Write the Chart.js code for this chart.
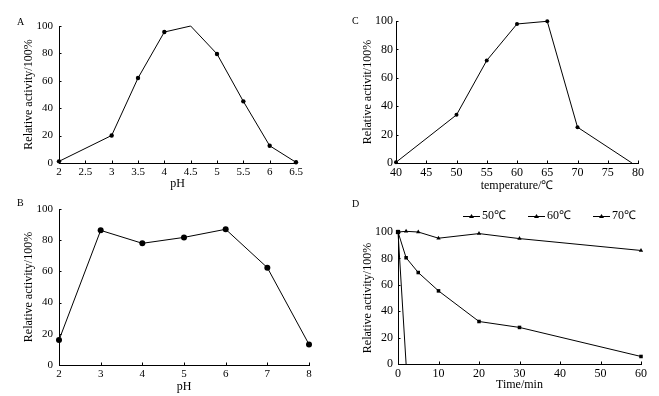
<!DOCTYPE html>
<html>
<head>
<meta charset="utf-8">
<script src="https://cdn.jsdelivr.net/npm/chart.js@4/dist/chart.umd.min.js"></script>
<style>
  html,body{margin:0;padding:0;background:#fff;}
  #wrap{position:relative;width:659px;height:396px;overflow:hidden;font-family:"Liberation Serif",serif;}
  canvas{position:absolute;}
  .lab{position:absolute;font-family:"Liberation Serif",serif;font-size:10px;color:#000;line-height:10px;}
</style>
</head>
<body>
<div id="wrap">
  <canvas id="cA" width="330" height="195" style="left:0;top:0;width:330px;height:195px"></canvas>
  <canvas id="cC" width="329" height="195" style="left:330px;top:0;width:329px;height:195px"></canvas>
  <canvas id="cB" width="330" height="201" style="left:0;top:195px;width:330px;height:201px"></canvas>
  <canvas id="cD" width="329" height="201" style="left:330px;top:195px;width:329px;height:201px"></canvas>
  <div class="lab" style="left:17px;top:17px">A</div>
  <div class="lab" style="left:352px;top:16px">C</div>
  <div class="lab" style="left:17px;top:198px">B</div>
  <div class="lab" style="left:352px;top:199px">D</div>
</div>
<script>
// ---- data ----
const phA = [2, 3, 3.5, 4, 4.5, 5, 5.5, 6, 6.5];
const activityA = [1.2, 20.1, 62, 95.6, 100, 79.6, 45, 12.6, 0.5];

const phB = [2, 3, 4, 5, 6, 7, 8];
const activityB = [16, 86.3, 78, 81.8, 87, 62.4, 13.2];

const tempC = [40, 50, 55, 60, 65, 70, 79];
const activityC = [0.5, 33.9, 72.2, 97.9, 99.8, 25.2, 0];

const timeD50 = [0, 2, 5, 10, 20, 30, 60];
const activityD50 = [100, 100.5, 100, 95.3, 98.8, 95, 86];
const timeD60 = [0, 2, 5, 10, 20, 30, 60];
const activityD60 = [100, 80.5, 69.3, 55.4, 32.2, 27.7, 5.7];
const timeD70 = [0, 2];
const activityD70 = [100, 0];
const seriesLabelsD = ['50℃', '60℃', '70℃'];

// ---- helpers ----
const FONT = '"Liberation Serif", serif';
const pts = (xs, ys) => xs.map((x, i) => ({x: x, y: ys[i]}));
const fmt = v => String(Math.round(v * 100) / 100);

const inwardTicks = {
  id: 'inwardTicks',
  afterDraw(chart) {
    const ctx = chart.ctx, xs = chart.scales.x, ys = chart.scales.y;
    ctx.save();
    ctx.strokeStyle = '#000';
    ctx.lineWidth = 1;
    xs.ticks.forEach((t, i) => {
      const px = Math.round(xs.getPixelForTick(i)) + 0.5;
      ctx.beginPath(); ctx.moveTo(px, xs.top); ctx.lineTo(px, xs.top - 2.5); ctx.stroke();
    });
    ys.ticks.forEach((t, i) => {
      const py = Math.round(ys.getPixelForTick(i)) + 0.5;
      ctx.beginPath(); ctx.moveTo(ys.right, py); ctx.lineTo(ys.right + 2.5, py); ctx.stroke();
    });
    ctx.restore();
  }
};

function axisX(min, max, step, title, opt) {
  return {
    type: 'linear', min: min, max: max,
    afterFit: s => { s.height = opt.h; },
    grid: {display: false, drawTicks: false},
    border: {display: true, color: '#000', width: 1},
    ticks: {stepSize: step, color: '#000', padding: opt.tp, font: {family: FONT, size: opt.fs}, maxRotation: 0, autoSkip: false, callback: fmt},
    title: {display: true, text: title, color: '#000', font: {family: FONT, size: 12}, padding: {top: opt.titleP, bottom: opt.titleP}}
  };
}
function axisY(title, opt) {
  return {
    type: 'linear', min: 0, max: 100,
    afterFit: s => { s.width = opt.w; },
    grid: {display: false, drawTicks: false},
    border: {display: true, color: '#000', width: 1},
    ticks: {stepSize: 20, color: '#000', padding: opt.tp, font: {family: FONT, size: opt.fs}, callback: fmt},
    title: {display: true, text: title, color: '#000', font: {family: FONT, size: 12}, padding: {top: opt.titleP, bottom: opt.titleP}}
  };
}
function lineDs(label, data, style, radius) {
  return {
    label: label, data: data, showLine: true,
    borderColor: '#000', backgroundColor: '#000', borderWidth: 1,
    pointStyle: style, pointRadius: radius, pointBorderWidth: 0,
    pointBackgroundColor: '#000', tension: 0, clip: false
  };
}
function baseOptions(padding, scales, legend) {
  return {
    responsive: false, animation: false, devicePixelRatio: 1,
    layout: {padding: padding},
    plugins: {legend: legend || {display: false}, tooltip: {enabled: false}, title: {display: false}},
    scales: scales
  };
}

// Panel A
new Chart(document.getElementById('cA'), {
  type: 'scatter',
  data: {datasets: [lineDs('A', pts(phA, activityA), 'circle', [2.2,2.2,2.2,2.2,0,2.2,2.2,2.2,2.2])]},
  options: baseOptions({top: 26, right: 34, left: 0, bottom: 0}, {
    x: axisX(2, 6.5, 0.5, 'pH', {h: 32, tp: 3, fs: 11, titleP: 4.4}),
    y: axisY('Relative activity/100%', {w: 59, tp: 6, fs: 11, titleP: 21.4})
  }),
  plugins: [inwardTicks]
});

// Panel C
new Chart(document.getElementById('cC'), {
  type: 'scatter',
  data: {datasets: [lineDs('C', pts(tempC, activityC), 'circle', [2,2,2,2,2,2,0])]},
  options: baseOptions({top: 21, right: 21, left: 0, bottom: 0}, {
    x: axisX(40, 80, 5, 'temperature/℃', {h: 32, tp: 3, fs: 12, titleP: 1.5}),
    y: axisY('Relative activit/100%', {w: 66, tp: 3, fs: 12, titleP: 30.4})
  }),
  plugins: [inwardTicks]
});

// Panel B
new Chart(document.getElementById('cB'), {
  type: 'scatter',
  data: {datasets: [lineDs('B', pts(phB, activityB), 'circle', 3)]},
  options: baseOptions({top: 14, right: 21, left: 0, bottom: 0}, {
    x: axisX(2, 8, 1, 'pH', {h: 31, tp: 3, fs: 11, titleP: 1.5}),
    y: axisY('Relative activity/100%', {w: 59, tp: 6, fs: 11, titleP: 21.4})
  }),
  plugins: [inwardTicks]
});

// Panel D legend symbol
const legImg = document.createElement('canvas');
legImg.width = 40; legImg.height = 8;
(function () {
  const c = legImg.getContext('2d');
  c.strokeStyle = '#000'; c.fillStyle = '#000'; c.lineWidth = 1;
  c.beginPath(); c.moveTo(22, 4.5); c.lineTo(39, 4.5); c.stroke();
  c.beginPath(); c.moveTo(30.5, 2); c.lineTo(33, 6); c.lineTo(28, 6); c.closePath(); c.fill();
})();

new Chart(document.getElementById('cD'), {
  type: 'scatter',
  data: {datasets: [
    lineDs(seriesLabelsD[0], pts(timeD50, activityD50), 'triangle', 2.5),
    lineDs(seriesLabelsD[1], pts(timeD60, activityD60), 'rect', 2.5),
    lineDs(seriesLabelsD[2], pts(timeD70, activityD70), 'rect', [3, 0])
  ]},
  options: baseOptions({top: 10, right: 18, left: 0, bottom: 0}, {
    x: axisX(0, 60, 10, 'Time/min', {h: 32, tp: 3, fs: 12, titleP: 3.5}),
    y: axisY('Relative activity/100%', {w: 68, tp: 5, fs: 12, titleP: 30.4})
  }, {
    display: true, position: 'top', align: 'end',
    labels: {usePointStyle: true, pointStyle: legImg, pointStyleWidth: 30, padding: 5, color: '#000', font: {family: FONT, size: 12}}
  }),
  plugins: [inwardTicks]
});
</script>
</body>
</html>
